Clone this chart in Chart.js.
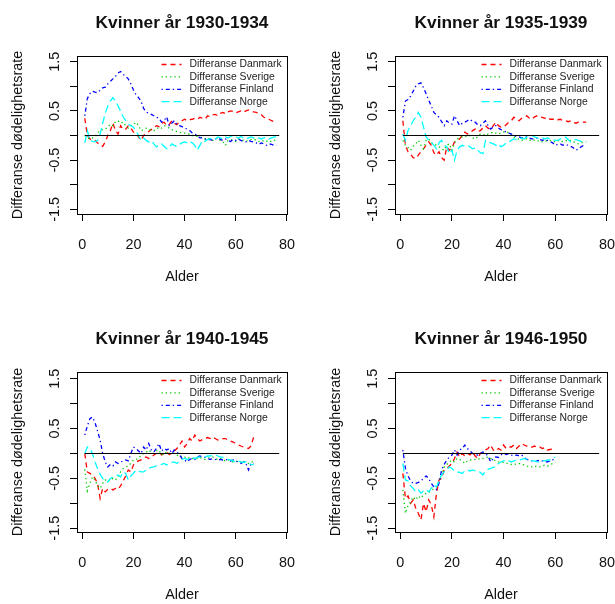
<!DOCTYPE html>
<html>
<head>
<meta charset="utf-8">
<script src="https://cdn.jsdelivr.net/npm/chart.js@4.4.0/dist/chart.umd.min.js"></script>
<style>
  html, body { margin: 0; padding: 0; background: #fff; }
  #wrap { position: relative; width: 615px; height: 604px; }
  canvas { position: absolute; }
</style>
</head>
<body>
<div id="wrap">
  <canvas id="c1" width="307" height="302" style="left:0;top:0"></canvas>
  <canvas id="c2" width="308" height="302" style="left:307px;top:0"></canvas>
  <canvas id="c3" width="307" height="302" style="left:0;top:302px"></canvas>
  <canvas id="c4" width="308" height="302" style="left:307px;top:302px"></canvas>
</div>
<script>
const countries = ['Danmark', 'Sverige', 'Finland', 'Norge'];
const lineColors = ['#ff0000', '#00cd00', '#0000ff', '#00ffff'];
const lineDashes = [[5, 4], [1.3, 3], [1.3, 3, 4, 3], [8, 4]];
const periods = ['1930-1934', '1935-1939', '1940-1945', '1946-1950'];
const xTicks = [0, 20, 40, 60, 80];
const yTicks = [-1.5, -1, -0.5, 0, 0.5, 1, 1.5];
const yTickLabels = [-1.5, -0.5, 0.5, 1.5];
const zeroLineAges = [1, 77];

// differanse i dødelighetsrate per alder (alder 1, 2, 3, ...)
const danmark1930 = [0.35,0.0,-0.07,-0.1,-0.1,-0.15,-0.2,-0.22,-0.13,0.0,
  0.1,0.25,0.1,0.03,0.2,0.12,0.13,0.2,0.15,0.07,
  0.05,-0.03,-0.1,0.0,0.05,0.08,0.12,0.15,0.2,0.18,
  0.25,0.27,0.2,0.22,0.3,0.25,0.22,0.28,0.3,0.33,
  0.3,0.32,0.33,0.35,0.33,0.37,0.35,0.33,0.4,0.38,
  0.42,0.43,0.4,0.45,0.47,0.44,0.48,0.5,0.49,0.46,
  0.48,0.5,0.47,0.5,0.52,0.5,0.48,0.47,0.45,0.42,
  0.37,0.35,0.33,0.3,0.28,0.3];
const sverige1930 = [0.0,-0.05,-0.07,-0.05,-0.03,0.05,0.1,0.12,0.13,0.17,
  0.23,0.2,0.28,0.3,0.25,0.27,0.2,0.15,0.2,0.22,
  0.27,0.2,0.1,0.12,0.15,0.13,0.1,0.1,0.13,0.17,
  0.15,0.2,0.18,0.15,0.12,0.1,0.08,0.07,0.05,0.05,
  0.03,0.03,0.0,0.0,-0.02,-0.03,-0.05,-0.07,-0.05,-0.08,
  -0.1,-0.07,-0.05,-0.1,-0.12,-0.2,-0.1,-0.08,-0.1,-0.12,
  -0.07,-0.08,-0.1,-0.12,-0.1,-0.08,-0.07,-0.1,-0.12,-0.13,
  -0.1,-0.12,-0.1,-0.13,-0.1,-0.08];
const finland1930 = [0.4,0.75,0.85,0.9,0.88,0.87,0.92,0.97,0.98,1.05,
  1.1,1.15,1.2,1.27,1.3,1.24,1.2,1.15,1.05,0.93,
  0.83,0.77,0.7,0.55,0.48,0.45,0.43,0.4,0.37,0.35,
  0.27,0.3,0.38,0.2,0.25,0.3,0.22,0.2,0.18,0.15,
  0.13,0.1,0.05,0.03,0.0,-0.05,-0.05,-0.07,-0.1,-0.08,
  -0.1,-0.07,-0.05,-0.08,-0.1,-0.07,-0.1,-0.12,-0.08,-0.1,
  -0.07,-0.1,-0.12,-0.13,-0.1,-0.12,-0.13,-0.15,-0.18,-0.15,
  -0.17,-0.2,-0.17,-0.18,-0.2,-0.2];
const norge1930 = [-0.15,0.1,-0.1,-0.12,-0.13,-0.1,0.03,0.25,0.45,0.6,
  0.7,0.77,0.7,0.6,0.5,0.38,0.3,0.23,0.2,0.17,
  0.1,0.0,-0.1,-0.05,-0.1,-0.13,-0.1,-0.17,-0.23,-0.2,
  -0.17,-0.22,-0.27,-0.25,-0.17,-0.2,-0.22,-0.18,-0.15,-0.13,
  -0.15,-0.12,-0.15,-0.2,-0.3,-0.2,-0.1,-0.12,-0.08,-0.07,
  -0.05,-0.07,-0.03,-0.05,-0.07,-0.03,-0.05,-0.02,0.0,-0.03,
  -0.05,-0.02,-0.05,-0.07,-0.05,-0.03,-0.05,-0.08,-0.05,-0.07,
  -0.05,-0.03,-0.07,-0.05,-0.03,-0.03];

const danmark1935 = [0.3,-0.2,-0.33,-0.38,-0.45,-0.47,-0.4,-0.33,-0.27,-0.2,
  -0.13,-0.2,-0.35,-0.4,-0.33,-0.45,-0.5,-0.23,-0.3,-0.25,
  -0.13,-0.1,-0.07,0.0,0.07,0.03,0.05,0.1,0.13,0.08,
  0.1,0.15,0.2,0.15,0.12,0.2,0.27,0.2,0.17,0.17,
  0.22,0.27,0.3,0.37,0.33,0.3,0.35,0.37,0.4,0.35,
  0.33,0.38,0.4,0.38,0.37,0.35,0.37,0.33,0.33,0.35,
  0.32,0.33,0.3,0.3,0.28,0.3,0.27,0.25,0.27,0.28,
  0.27,0.27];
const sverige1935 = [-0.1,-0.2,-0.25,-0.3,-0.22,-0.17,-0.1,-0.2,-0.27,-0.1,
  -0.07,-0.15,-0.17,-0.2,-0.23,-0.27,-0.3,-0.2,-0.17,-0.3,
  -0.15,-0.07,-0.05,-0.03,-0.03,0.0,0.0,-0.05,-0.07,-0.02,
  0.03,0.02,0.0,0.03,0.05,0.07,0.05,0.03,0.05,0.07,
  0.05,0.07,0.02,-0.03,-0.05,-0.08,-0.1,-0.08,-0.07,-0.1,
  -0.08,-0.1,-0.12,-0.1,-0.13,-0.12,-0.1,-0.1,-0.12,-0.13,
  -0.1,-0.13,-0.12,-0.1,-0.12,-0.1,-0.13,-0.15,-0.17,-0.15,
  -0.13,-0.13];
const finland1935 = [0.37,0.7,0.73,0.8,0.9,1.0,1.05,1.07,0.97,0.85,
  0.72,0.6,0.47,0.42,0.37,0.28,0.2,0.3,0.25,0.23,
  0.4,0.3,0.2,0.25,0.27,0.3,0.33,0.28,0.27,0.22,
  0.2,0.25,0.3,0.2,0.13,0.17,0.2,0.15,0.12,0.1,
  0.07,0.05,0.03,0.0,-0.02,-0.03,-0.05,-0.03,-0.02,-0.05,
  -0.07,-0.07,-0.05,-0.08,-0.1,-0.08,-0.1,-0.12,-0.15,-0.2,
  -0.18,-0.17,-0.2,-0.18,-0.2,-0.22,-0.25,-0.3,-0.27,-0.23,
  -0.2,-0.2];
const norge1935 = [0.03,-0.1,0.1,0.2,0.3,0.37,0.47,0.37,0.17,-0.03,
  -0.1,-0.13,-0.2,-0.27,-0.15,-0.1,-0.2,-0.23,-0.37,-0.3,
  -0.5,-0.3,-0.23,-0.2,-0.22,-0.2,-0.23,-0.27,-0.25,-0.3,
  -0.35,-0.37,-0.1,-0.13,-0.15,-0.17,-0.2,-0.17,-0.23,-0.2,
  -0.15,-0.13,-0.1,-0.07,-0.08,-0.07,-0.05,-0.07,-0.03,-0.02,
  0.0,-0.03,-0.05,-0.07,-0.05,-0.07,-0.05,-0.07,-0.08,-0.1,
  -0.1,-0.07,-0.05,-0.03,-0.08,-0.13,-0.1,-0.08,-0.1,-0.12,
  -0.13,-0.13];

const danmark1940 = [0.0,-0.37,-0.4,-0.43,-0.5,-0.6,-0.9,-0.7,-0.77,-0.72,
  -0.7,-0.73,-0.7,-0.72,-0.65,-0.55,-0.45,-0.33,-0.37,-0.23,
  -0.17,-0.15,-0.13,-0.1,-0.07,-0.1,-0.07,-0.03,0.0,0.03,
  -0.03,0.0,0.03,-0.02,0.0,0.05,0.1,0.17,0.25,0.13,
  0.2,0.3,0.25,0.37,0.3,0.25,0.28,0.3,0.32,0.3,
  0.33,0.3,0.27,0.28,0.3,0.3,0.27,0.25,0.23,0.2,
  0.17,0.15,0.13,0.12,0.1,0.15,0.33];
const sverige1940 = [-0.32,-0.75,-0.6,-0.47,-0.53,-0.65,-0.7,-0.6,-0.53,-0.57,
  -0.52,-0.5,-0.53,-0.47,-0.37,-0.3,-0.27,-0.25,-0.2,-0.13,
  -0.12,-0.1,-0.03,0.0,0.03,0.07,0.02,0.0,0.05,0.07,
  -0.03,0.0,0.03,0.0,0.02,0.0,-0.03,-0.07,-0.05,-0.07,
  -0.1,-0.08,-0.1,-0.12,-0.1,-0.08,-0.1,-0.12,-0.1,-0.08,
  -0.07,-0.1,-0.12,-0.1,-0.13,-0.15,-0.13,-0.15,-0.17,-0.15,
  -0.18,-0.17,-0.15,-0.18,-0.2,-0.17,-0.17];
const finland1940 = [0.37,0.55,0.7,0.73,0.62,0.45,0.27,0.0,-0.17,-0.27,
  -0.22,-0.25,-0.17,-0.2,-0.17,-0.15,-0.13,-0.15,0.0,0.13,
  0.1,0.05,0.0,0.13,0.07,0.2,0.07,0.03,0.1,0.2,
  0.05,0.1,0.07,0.1,0.0,0.07,0.03,-0.03,-0.1,-0.13,
  -0.17,-0.12,-0.1,-0.12,-0.07,-0.05,-0.07,-0.08,-0.1,-0.12,
  -0.1,-0.12,-0.13,-0.12,-0.13,-0.12,-0.13,-0.15,-0.13,-0.15,
  -0.17,-0.2,-0.17,-0.2,-0.33,-0.2,-0.2];
const norge1940 = [0.0,0.13,0.1,0.0,-0.17,-0.3,-0.42,-0.5,-0.55,-0.57,
  -0.5,-0.47,-0.45,-0.43,-0.47,-0.37,-0.4,-0.53,-0.45,-0.4,
  -0.33,-0.35,-0.37,-0.37,-0.33,-0.3,-0.28,-0.27,-0.25,-0.23,
  -0.22,-0.2,-0.23,-0.2,-0.18,-0.17,-0.2,-0.15,-0.12,-0.1,
  -0.12,-0.1,-0.08,-0.1,-0.08,-0.07,-0.08,-0.07,-0.05,-0.05,
  -0.03,-0.03,-0.05,-0.07,-0.08,-0.1,-0.12,-0.13,-0.15,-0.17,
  -0.15,-0.17,-0.18,-0.17,-0.2,-0.22,-0.23];

const danmark1946 = [-0.4,-0.9,-0.85,-1.0,-0.93,-1.1,-1.2,-1.33,-1.0,-1.17,
  -0.93,-1.03,-1.27,-0.8,-0.53,-0.5,-0.33,-0.3,-0.25,-0.2,
  -0.1,0.03,-0.07,0.0,-0.05,0.0,-0.03,0.03,-0.05,-0.1,
  0.0,0.03,0.07,0.1,0.17,0.07,0.05,0.1,0.07,0.17,
  0.1,0.13,0.13,0.17,0.1,0.15,0.2,0.17,0.15,0.13,
  0.13,0.15,0.12,0.13,0.1,0.12,0.07,0.08,0.1,0.12];
const sverige1946 = [-0.73,-1.2,-1.05,-0.97,-0.87,-0.93,-0.85,-0.9,-0.83,-0.8,
  -0.78,-0.75,-0.7,-0.67,-0.55,-0.45,-0.27,-0.22,-0.17,-0.13,
  -0.17,-0.1,-0.12,-0.15,-0.2,-0.15,-0.13,-0.13,-0.12,-0.1,
  -0.12,-0.1,-0.08,-0.07,-0.1,-0.12,-0.15,-0.17,-0.17,-0.18,
  -0.2,-0.2,-0.22,-0.23,-0.2,-0.2,-0.22,-0.23,-0.25,-0.27,
  -0.27,-0.25,-0.27,-0.27,-0.25,-0.23,-0.25,-0.23,-0.2,-0.17];
const finland1946 = [0.07,-0.3,-0.45,-0.55,-0.6,-0.6,-0.58,-0.55,-0.5,-0.45,
  -0.5,-0.6,-0.67,-0.72,-0.6,-0.33,-0.22,-0.13,-0.07,-0.03,
  0.07,-0.03,0.07,0.1,0.17,0.1,0.05,0.0,-0.02,-0.03,
  0.0,0.03,0.0,-0.05,-0.17,-0.1,-0.07,-0.08,-0.03,0.0,
  -0.02,0.0,-0.03,-0.05,-0.03,-0.05,-0.03,-0.08,-0.12,-0.13,
  -0.15,-0.17,-0.15,-0.13,-0.15,-0.17,-0.17,-0.15,-0.13,-0.07];
const norge1946 = [-0.2,-0.53,-0.55,-0.65,-0.7,-0.77,-0.73,-0.8,-0.75,-0.73,
  -0.77,-0.7,-0.63,-0.67,-0.55,-0.43,-0.37,-0.33,-0.27,-0.3,
  -0.35,-0.37,-0.38,-0.4,-0.35,-0.33,-0.35,-0.33,-0.35,-0.35,
  -0.38,-0.43,-0.35,-0.32,-0.3,-0.28,-0.27,-0.2,-0.17,-0.15,
  -0.13,-0.15,-0.17,-0.15,-0.13,-0.13,-0.12,-0.1,-0.12,-0.13,
  -0.15,-0.15,-0.17,-0.17,-0.15,-0.15,-0.13,-0.13,-0.1,-0.07];

const panelSeries = [
  [danmark1930, sverige1930, finland1930, norge1930],
  [danmark1935, sverige1935, finland1935, norge1935],
  [danmark1940, sverige1940, finland1940, norge1940],
  [danmark1946, sverige1946, finland1946, norge1946]
];

// plot region of each panel inside its canvas, and its y range
const plotBoxes = [
  { l: 77, r: 287, t: 56, b: 214, ymin: -1.595, ymax: 1.615 },
  { l: 88, r: 300, t: 56, b: 214, ymin: -1.595, ymax: 1.615 },
  { l: 77, r: 287, t: 70, b: 230, ymin: -1.575, ymax: 1.635 },
  { l: 88, r: 300, t: 70, b: 230, ymin: -1.575, ymax: 1.635 }
];

const FONT = '"Liberation Sans", Arial, sans-serif';
const X_AXIS_H = 40;

const rDecorations = {
  id: 'rDecorations',
  afterDraw(chart, args, opts) {
    const ctx = chart.ctx;
    const a = chart.chartArea;
    const xScale = chart.scales.x;
    const yScale = chart.scales.y;
    ctx.save();
    ctx.strokeStyle = '#000';
    ctx.lineWidth = 1;
    ctx.setLineDash([]);
    ctx.strokeRect(Math.round(a.left) + 0.5, Math.round(a.top) + 0.5,
      Math.round(a.right - a.left), Math.round(a.bottom - a.top));

    ctx.fillStyle = '#111';
    ctx.textAlign = 'center';
    ctx.textBaseline = 'middle';
    ctx.font = '14.4px ' + FONT;

    // x tick labels
    xTicks.forEach(v => {
      ctx.fillText(String(v), xScale.getPixelForValue(v), a.bottom + 31);
    });

    // y tick labels, rotated like R
    yTickLabels.forEach(v => {
      ctx.save();
      ctx.translate(a.left - 22, yScale.getPixelForValue(v));
      ctx.rotate(-Math.PI / 2);
      ctx.fillText(String(v), 0, 0);
      ctx.restore();
    });

    // title
    const cx = (a.left + a.right) / 2;
    ctx.font = 'bold 17.3px ' + FONT;
    ctx.fillText(opts.title, cx, a.top - 33);

    // axis titles
    ctx.font = '14.4px ' + FONT;
    ctx.fillText('Alder', cx, a.bottom + 63);
    ctx.save();
    ctx.translate(a.left - 59, (a.top + a.bottom) / 2);
    ctx.rotate(-Math.PI / 2);
    ctx.fillText('Differanse dødelighetsrate', 0, 0);
    ctx.restore();

    // legend, topright without frame
    ctx.font = '10.4px ' + FONT;
    ctx.textAlign = 'left';
    countries.forEach((c, i) => {
      const y = a.top + 8.5 + i * 12.4;
      ctx.beginPath();
      ctx.strokeStyle = lineColors[i];
      ctx.lineWidth = 1.3;
      ctx.setLineDash(lineDashes[i]);
      ctx.moveTo(a.right - 125.5, y);
      ctx.lineTo(a.right - 105.5, y);
      ctx.stroke();
      ctx.fillStyle = '#222';
      ctx.fillText('Differanse ' + c, a.right - 97.5, y);
    });
    ctx.restore();
  }
};

function makePanel(idx) {
  const canvas = document.getElementById('c' + (idx + 1));
  const box = plotBoxes[idx];
  const series = panelSeries[idx];

  const datasets = series.map((vals, i) => ({
    label: 'Differanse ' + countries[i],
    data: vals.map((v, k) => ({ x: k + 1, y: v })),
    borderColor: lineColors[i],
    borderDash: lineDashes[i],
    borderWidth: 1.3,
    pointRadius: 0,
    tension: 0,
    fill: false,
    order: 4 - i
  }));
  datasets.push({
    label: 'null',
    data: zeroLineAges.map(a => ({ x: a, y: 0 })),
    borderColor: '#000',
    borderWidth: 1,
    pointRadius: 0,
    order: 0
  });

  new Chart(canvas.getContext('2d'), {
    type: 'line',
    data: { datasets: datasets },
    options: {
      responsive: false,
      animation: false,
      events: [],
      layout: {
        padding: {
          left: 0,
          top: box.t,
          right: canvas.width - box.r,
          bottom: canvas.height - box.b - X_AXIS_H
        }
      },
      plugins: {
        legend: { display: false },
        tooltip: { enabled: false },
        rDecorations: { title: 'Kvinner år ' + periods[idx] }
      },
      scales: {
        x: {
          type: 'linear',
          min: -2.04,
          max: 80.04,
          afterBuildTicks: s => { s.ticks = xTicks.map(v => ({ value: v })); },
          afterFit: s => { s.height = X_AXIS_H; },
          grid: { drawOnChartArea: false, drawTicks: true, tickLength: 7, color: '#000' },
          border: { display: false },
          ticks: { display: false }
        },
        y: {
          type: 'linear',
          min: box.ymin,
          max: box.ymax,
          afterBuildTicks: s => { s.ticks = yTicks.map(v => ({ value: v })); },
          afterFit: s => { s.width = box.l; },
          grid: { drawOnChartArea: false, drawTicks: true, tickLength: 7, color: '#000' },
          border: { display: false },
          ticks: { display: false }
        }
      }
    },
    plugins: [rDecorations]
  });
}

[0, 1, 2, 3].forEach(makePanel);
</script>
</body>
</html>
